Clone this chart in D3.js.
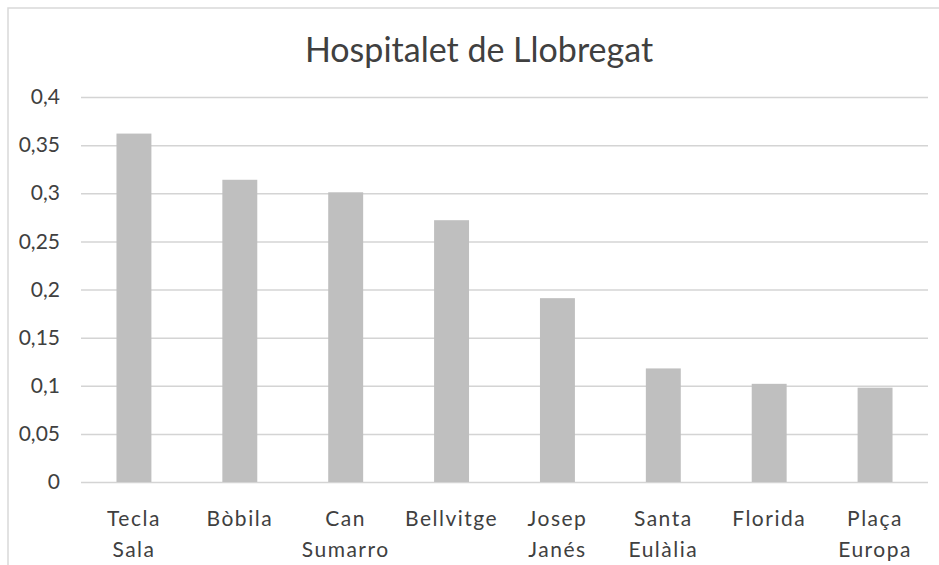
<!DOCTYPE html>
<html>
<head>
<meta charset="utf-8">
<script src="https://cdn.jsdelivr.net/npm/d3@7"></script>
<style>
    body { margin: 0; background: #fff; }
    text { font-family: Lato, "Open Sans", sans-serif; fill: #404040; }
</style>
</head>
<body>
<div id="wrapper"></div>
<script>
// data
const title = "Hospitalet de Llobregat";
const categories = [
    ["Tecla", "Sala"],
    ["Bòbila"],
    ["Can", "Sumarro"],
    ["Bellvitge"],
    ["Josep", "Janés"],
    ["Santa", "Eulàlia"],
    ["Florida"],
    ["Plaça", "Europa"]
];
const values = [0.362, 0.314, 0.301, 0.272, 0.191, 0.118, 0.102, 0.098];
const yTicks = [0, 0.05, 0.1, 0.15, 0.2, 0.25, 0.3, 0.35, 0.4];

function drawBars() {
    const data = categories.map((c, i) => ({ key: c.join(" "), lines: c, value: values[i] }));

    const xAccessor = d => d.key;
    const yAccessor = d => d.value;

    const dimensions = {
        width: 939,
        height: 565,
        margin: { top: 97, right: 11, bottom: 83, left: 81 }
    };
    dimensions.boundedWidth = dimensions.width - dimensions.margin.left - dimensions.margin.right;
    dimensions.boundedHeight = dimensions.height - dimensions.margin.top - dimensions.margin.bottom;

    const wrapper = d3.select("#wrapper")
        .append("svg")
        .attr("width", dimensions.width)
        .attr("height", dimensions.height);

    // chart frame (only top and left edges fall inside the picture)
    wrapper.append("rect")
        .attr("x", 8)
        .attr("y", 8)
        .attr("width", 1000)
        .attr("height", 1000)
        .attr("fill", "none")
        .attr("stroke", "#d9d9d9")
        .attr("stroke-width", 1.5);

    wrapper.append("text")
        .attr("x", 479)
        .attr("y", 62)
        .attr("text-anchor", "middle")
        .style("font-size", "34px")
        .text(title);

    const bounds = wrapper.append("g")
        .attr("transform", `translate(${dimensions.margin.left},${dimensions.margin.top})`);

    const xScale = d3.scaleBand()
        .domain(data.map(xAccessor))
        .range([0, dimensions.boundedWidth])
        .paddingInner(0.67)
        .paddingOuter(0.335);

    const yScale = d3.scaleLinear()
        .domain([0, 0.4])
        .range([dimensions.boundedHeight, 0]);

    // gridlines + y labels
    const yAxisGenerator = d3.axisLeft(yScale)
        .tickValues(yTicks)
        .tickSize(-dimensions.boundedWidth)
        .tickPadding(21)
        .tickFormat(d => String(d).replace(".", ","));

    const yAxis = bounds.append("g").call(yAxisGenerator);
    yAxis.select(".domain").remove();
    yAxis.selectAll(".tick line")
        .attr("stroke", "#d4d4d4")
        .attr("stroke-width", 1.5);
    yAxis.selectAll(".tick text")
        .attr("fill", "#404040")
        .style("font-family", "Lato, sans-serif")
        .style("font-size", "21px");

    bounds.selectAll("rect.bar")
        .data(data)
        .join("rect")
        .attr("class", "bar")
        .attr("x", d => xScale(xAccessor(d)))
        .attr("width", xScale.bandwidth())
        .attr("y", d => yScale(yAccessor(d)))
        .attr("height", d => dimensions.boundedHeight - yScale(yAccessor(d)))
        .attr("fill", "#bfbfbf");

    // x labels, two lines each
    const xLabels = bounds.append("g")
        .attr("transform", `translate(0,${dimensions.boundedHeight})`)
        .selectAll("text")
        .data(data)
        .join("text")
        .attr("x", d => xScale(xAccessor(d)) + xScale.bandwidth() / 2)
        .attr("text-anchor", "middle")
        .style("font-size", "21px")
        .style("letter-spacing", "1.5px");

    xLabels.selectAll("tspan")
        .data(d => d.lines.map((l, i) => ({ l, i, x: xScale(d.key) + xScale.bandwidth() / 2 })))
        .join("tspan")
        .attr("x", d => d.x)
        .attr("y", d => 44 + d.i * 31)
        .text(d => d.l);
}

drawBars();
</script>
</body>
</html>
